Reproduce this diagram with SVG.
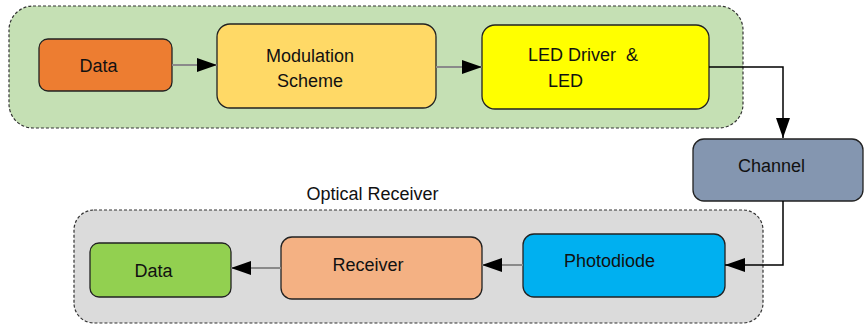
<svg xmlns="http://www.w3.org/2000/svg" width="865" height="327" viewBox="0 0 865 327">
<style>
.grp{stroke:#333;stroke-width:1.2;stroke-dasharray:3 2}
.node{stroke:#222;stroke-width:1.3}
.t{font-family:"Liberation Sans",Arial,sans-serif;font-size:18px;fill:#111}
.m{text-anchor:middle}
.flow{stroke:#8a8a8a;stroke-width:2;fill:none}
.wire{stroke:#000;stroke-width:1.5;fill:none}
</style>
<defs>
<marker id="ah" viewBox="0 0 20 14" refX="20" refY="7" markerWidth="20" markerHeight="14" markerUnits="userSpaceOnUse" orient="auto">
<path d="M0,0 L20,7 L0,14 Z" fill="#000"/>
</marker>
</defs>
<g id="transmitter">
<rect class="grp" x="9" y="6" width="734" height="122" rx="24" fill="#C5E0B4"/>
</g>
<g id="optical-receiver">
<rect class="grp" x="74" y="210" width="689" height="113" rx="20" fill="#DBDBDB"/>
<text class="t m" x="372.5" y="200">Optical Receiver</text>
</g>
<g id="data-tx">
<rect class="node" x="39" y="39" width="133" height="52" rx="9" fill="#ED7D31"/>
<text class="t m" x="98.5" y="72">Data</text>
</g>
<g id="modulation">
<rect class="node" x="217" y="24" width="219" height="84" rx="13" fill="#FFD966"/>
<text class="t m" x="310" y="62">Modulation</text>
<text class="t m" x="310" y="87">Scheme</text>
</g>
<g id="led">
<rect class="node" x="482" y="25" width="227" height="84" rx="13" fill="#FFFF00"/>
<text class="t" x="528" y="61" xml:space="preserve">LED Driver  &amp;</text>
<text class="t" x="548" y="87">LED</text>
</g>
<g id="channel">
<rect class="node" x="693" y="139" width="170" height="62" rx="11" fill="#8496B0"/>
<text class="t m" x="771.5" y="172">Channel</text>
</g>
<g id="photodiode">
<rect class="node" x="523" y="234" width="202" height="63" rx="11" fill="#00B0F0"/>
<text class="t m" x="609.5" y="267">Photodiode</text>
</g>
<g id="receiver">
<rect class="node" x="281" y="237" width="201" height="62" rx="11" fill="#F4B183"/>
<text class="t m" x="368" y="271">Receiver</text>
</g>
<g id="data-rx">
<rect class="node" x="90" y="243" width="141" height="54" rx="9" fill="#92D050"/>
<text class="t m" x="153.5" y="277">Data</text>
</g>
<g id="connectors">
<path class="flow" d="M172,65 L217,65" marker-end="url(#ah)"/>
<path class="flow" d="M436,67 L482,67" marker-end="url(#ah)"/>
<path class="wire" d="M709,67 L783,67 L783,138" marker-end="url(#ah)"/>
<path class="wire" d="M783,201 L783,265 L725,265" marker-end="url(#ah)"/>
<path class="flow" d="M523,265 L482,265" marker-end="url(#ah)"/>
<path class="flow" d="M281,268 L231,268" marker-end="url(#ah)"/>
</g>
</svg>
